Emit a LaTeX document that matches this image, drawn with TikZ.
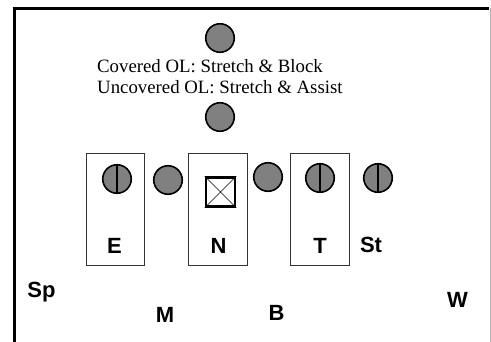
\documentclass[tikz,border=0pt]{standalone}
\usepackage{fontspec}
\setmainfont{Liberation Serif}
\newfontfamily\arialfont{Liberation Sans}
\definecolor{oline}{HTML}{808080}
\tikzset{
  lineman/.style={circle,draw=black,fill=oline,line width=1.6pt,minimum size=28.5pt,inner sep=0pt},
  zone/.style={draw=black!80,line width=0.9pt},
  tag/.style={font=\arialfont\bfseries\fontsize{22}{24}\selectfont,anchor=base,inner sep=0pt},
}
\begin{document}
\begin{tikzpicture}[x=1pt,y=-1pt]
		\useasboundingbox (0,0) rectangle (491,341);
		% frame
		\draw[line width=3pt](14,345)--(14,8)--(489,8);
		\draw[black!30,line width=1pt](490,8)--(490,345);

		% gaps
		\draw[zone](86,153) rectangle (144,265);
		\draw[zone](188,153) rectangle (247,265);
		\draw[zone](290,153) rectangle (349,265);

		% offense
		\node[lineman] (ptop) at (220,38) {};
		\node[lineman] (pmid) at (220,117) {};
		\node[lineman] (lg) at (168,180) {};
		\node[lineman] (rg) at (268,177) {};
		\node[lineman] (lt) at (117,179) {};
		\node[lineman] (rt) at (320,178) {};
		\node[lineman] (te) at (378,178) {};
		\foreach \p in {lt,rt,te}
			\draw[line width=1.6pt](\p.north)--(\p.south);
		\node[draw,line width=2.6pt,minimum size=29pt,inner sep=0pt,fill=white] (ctr) at (220.5,192) {};
		\draw[line width=0.6pt](ctr.north west)--(ctr.south east);
		\draw[line width=0.6pt](ctr.north east)--(ctr.south west);

		% last line sits on the base anchor
		\node[anchor=base west,inner sep=0pt,align=left,font=\fontsize{18.8}{21}\selectfont] (rule) at (97,93)
			{Covered OL: Stretch \& Block\\Uncovered OL: Stretch \& Assist};

		% defense
		\node[tag] (E) at (114.5,253) {E};
		\node[tag] (N) at (218.5,253) {N};
		\node[tag] (T) at (320,253) {T};
		\node[tag] (St) at (371,252) {St};
		\node[tag] (Sp) at (41.5,297) {Sp};
		\node[tag] (M) at (165,322) {M};
		\node[tag] (B) at (276.5,320) {B};
		\node[tag] (W) at (457.5,307) {W};

	    \end{tikzpicture}
\end{document}
